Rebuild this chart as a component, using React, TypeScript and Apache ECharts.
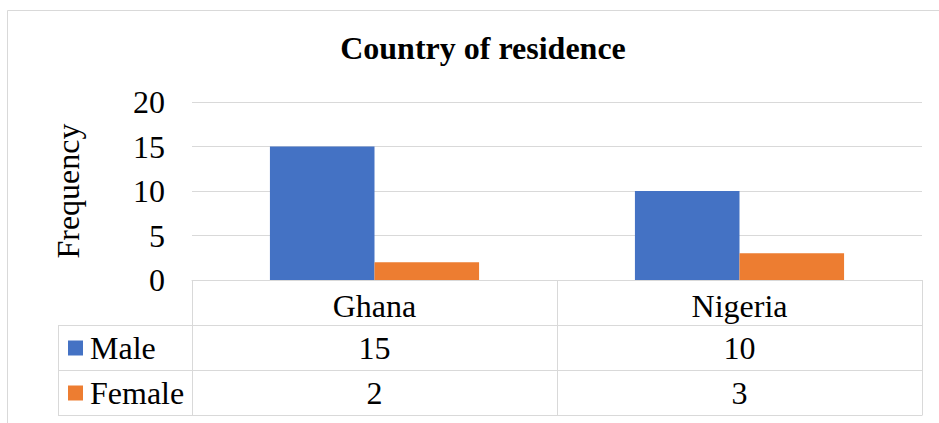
import React, { useEffect, useRef } from "react";
import * as echarts from "echarts";

const titleText = "Country of residence";
const yAxisName = "Frequency";
const categories = ["Ghana", "Nigeria"];
const seriesNames = ["Male", "Female"];
const maleValues = [15, 10];
const femaleValues = [2, 3];
const colors = ["#4472C4", "#ED7D31"];

const FONT = "'Liberation Serif', 'Times New Roman', serif";
const GRID_LEFT = 192;
const GRID_RIGHT_X = 922;
const GRID_TOP = 102;
const AXIS_Y = 280;
const ROW_H = 45;
const GRAY = "#d9d9d9";

export default function App() {
  const ref = useRef<HTMLDivElement>(null);
  useEffect(() => {
    if (!ref.current) return;
    const chart = echarts.init(ref.current, undefined, { renderer: "svg" });
    const W = 939;
    const H = 423;
    const tableBottom = AXIS_Y + ROW_H * 3;
    const hLine = (y: number, x1: number) => ({
      type: "line",
      shape: { x1, y1: y + 0.5, x2: GRID_RIGHT_X + 0.5, y2: y + 0.5 },
      style: { stroke: GRAY, lineWidth: 1 },
      silent: true,
    });
    chart.setOption({
      animation: false,
      backgroundColor: "#fff",
      title: {
        text: titleText,
        left: 483,
        top: 32,
        textAlign: "center",
        padding: 0,
        textStyle: { fontFamily: FONT, fontSize: 32, fontWeight: "bold", color: "#000" },
      },
      legend: {
        orient: "vertical",
        left: 68,
        top: AXIS_Y + ROW_H + 7,
        padding: 0,
        itemGap: 13,
        itemWidth: 15,
        itemHeight: 15,
        icon: "rect",
        data: seriesNames,
        textStyle: { fontFamily: FONT, fontSize: 32, color: "#000", padding: [0, 0, 0, 2] },
        selectedMode: false,
      },
      grid: {
        left: GRID_LEFT,
        right: W - GRID_RIGHT_X,
        top: GRID_TOP,
        bottom: H - AXIS_Y,
        containLabel: false,
      },
      xAxis: [
        {
          type: "category",
          data: categories,
          position: "bottom",
          axisLine: { show: true, lineStyle: { color: GRAY, width: 1 } },
          axisTick: { show: true, length: ROW_H * 3, interval: 0, lineStyle: { color: GRAY, width: 1 } },
          axisLabel: { fontFamily: FONT, fontSize: 32, color: "#000", margin: 10, interval: 0 },
        },
        {
          type: "category",
          data: categories,
          position: "bottom",
          offset: ROW_H,
          axisLine: { show: false },
          axisTick: { show: false },
          axisLabel: {
            fontFamily: FONT,
            fontSize: 32,
            color: "#000",
            margin: 7,
            interval: 0,
            formatter: (_v: string, i: number) => String(maleValues[i]),
          },
        },
        {
          type: "category",
          data: categories,
          position: "bottom",
          offset: ROW_H * 2,
          axisLine: { show: false },
          axisTick: { show: false },
          axisLabel: {
            fontFamily: FONT,
            fontSize: 32,
            color: "#000",
            margin: 7,
            interval: 0,
            formatter: (_v: string, i: number) => String(femaleValues[i]),
          },
        },
      ],
      yAxis: {
        type: "value",
        min: 0,
        max: 20,
        interval: 5,
        name: yAxisName,
        nameLocation: "middle",
        nameGap: 108,
        nameTextStyle: { fontFamily: FONT, fontSize: 32, color: "#000" },
        axisLine: { show: false },
        axisTick: { show: false },
        axisLabel: { fontFamily: FONT, fontSize: 32, color: "#000", margin: 27 },
        splitLine: { lineStyle: { color: GRAY, width: 1 } },
      },
      series: [
        {
          name: seriesNames[0],
          type: "bar",
          data: maleValues,
          itemStyle: { color: colors[0] },
          barGap: "0%",
          barCategoryGap: "42.7%",
        },
        {
          name: seriesNames[1],
          type: "bar",
          data: femaleValues,
          itemStyle: { color: colors[1] },
          barGap: "0%",
          barCategoryGap: "42.7%",
        },
      ],
      graphic: [
        {
          type: "rect",
          shape: { x: 7.5, y: 10.5, width: 1000, height: 1000 },
          style: { fill: "none", stroke: GRAY, lineWidth: 1 },
          silent: true,
        },
        hLine(AXIS_Y + ROW_H, 58),
        hLine(AXIS_Y + ROW_H * 2, 58),
        hLine(tableBottom, 58),
        {
          type: "line",
          shape: { x1: 58.5, y1: AXIS_Y + ROW_H, x2: 58.5, y2: tableBottom + 0.5 },
          style: { stroke: GRAY, lineWidth: 1 },
          silent: true,
        },
      ],
    });
    return () => chart.dispose();
  }, []);
  return (
    <div
      ref={ref}
      style={{ position: "fixed", left: 0, top: 0, width: 939, height: 423 }}
    />
  );
}
